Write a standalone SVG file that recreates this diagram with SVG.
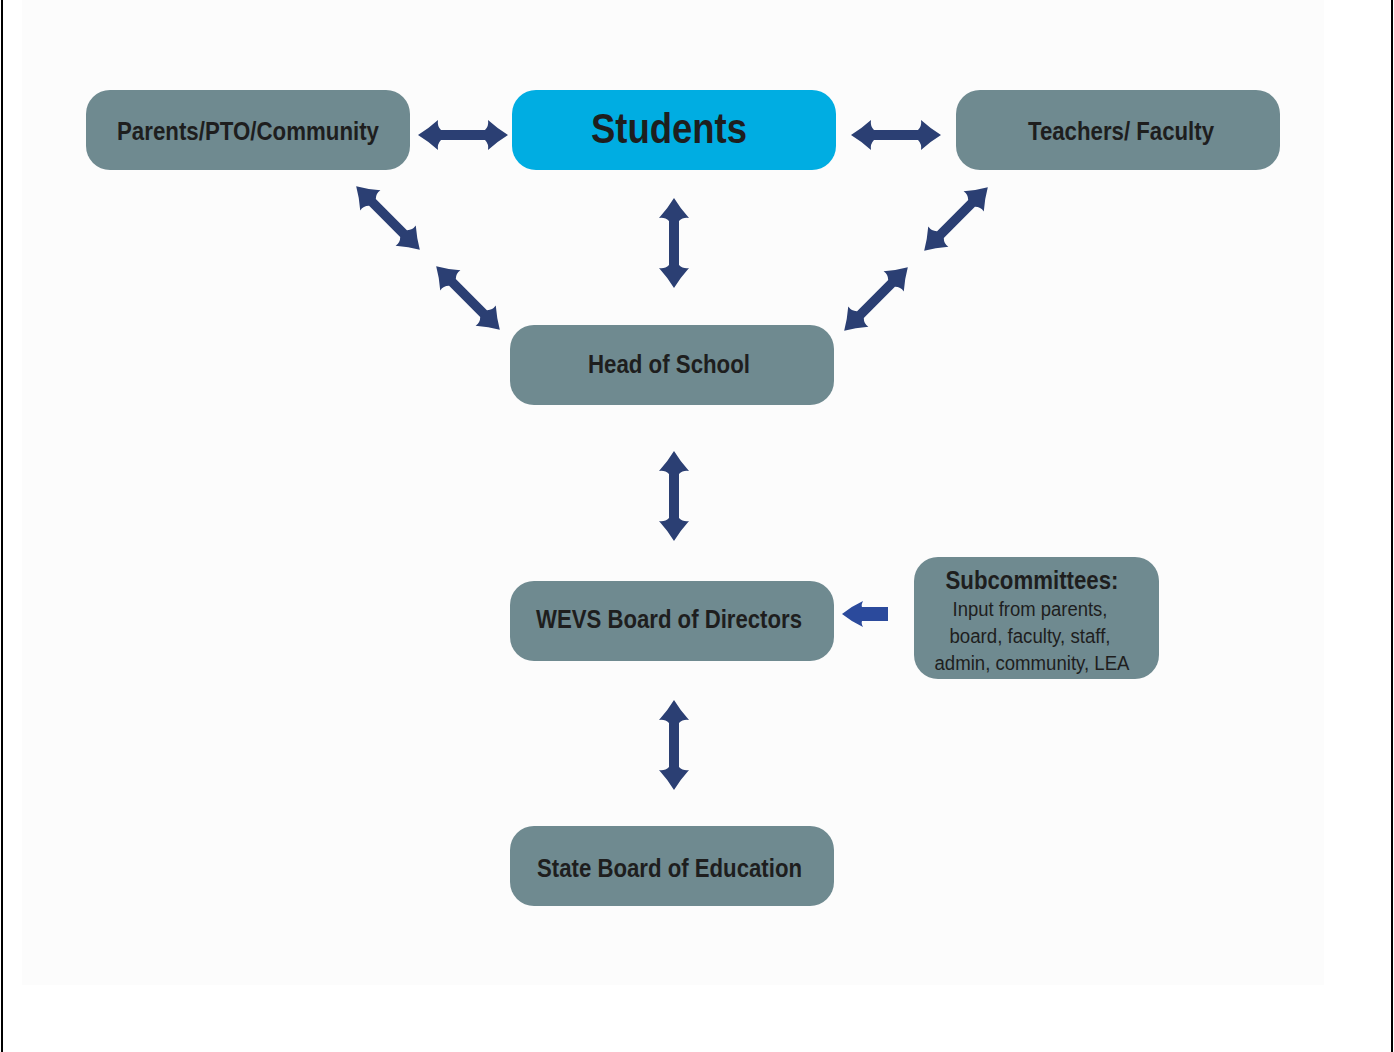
<svg xmlns="http://www.w3.org/2000/svg" width="1394" height="1052" viewBox="0 0 1394 1052">
<style>
.box{fill:#6f8a90;}
.stu{fill:#00ade2;}
.lbl{font-family:"Liberation Sans",Arial,sans-serif;font-weight:bold;fill:#1e1e1e;text-anchor:middle;}
.sub{font-family:"Liberation Sans",Arial,sans-serif;fill:#1e1e1e;text-anchor:middle;}
.arr{fill:#2b3f73;}
</style>
<defs>
<path id="dbl" d="M -45 0 Q -35 -6 -25 -15 Q -26 -9 -22 -5 L 22 -5 Q 26 -9 25 -15 Q 35 -6 45 0 Q 35 6 25 15 Q 26 9 22 5 L -22 5 Q -26 9 -25 15 Q -35 6 -45 0 Z"/>
</defs>
<rect x="0" y="0" width="1394" height="1052" fill="#ffffff"/>
<rect x="22" y="0" width="1302" height="985" fill="#fcfcfc"/>
<rect x="1" y="0" width="2" height="1052" fill="#000"/>
<rect x="1391" y="0" width="2" height="1052" fill="#000"/>

<g id="connectors">
<use href="#dbl" class="arr" transform="translate(463,135)"/>
<use href="#dbl" class="arr" transform="translate(896,135)"/>
<use href="#dbl" class="arr" transform="translate(674,243) rotate(90)"/>
<use href="#dbl" class="arr" transform="translate(674,496) rotate(90)"/>
<use href="#dbl" class="arr" transform="translate(674,745) rotate(90)"/>
<use href="#dbl" class="arr" transform="translate(388,218) rotate(45) scale(1,0.95)"/>
<use href="#dbl" class="arr" transform="translate(468,298) rotate(45) scale(1,0.95)"/>
<use href="#dbl" class="arr" transform="translate(956,219) rotate(-45) scale(1,0.95)"/>
<use href="#dbl" class="arr" transform="translate(876,299) rotate(-45) scale(1,0.95)"/>
<path d="M 842 614 Q 852 606 863 601 Q 861 605 862 607 L 888 607 L 888 621 L 862 621 Q 861 623 863 627 Q 852 622 842 614 Z" fill="#2b4a9c"/>
</g>

<g id="parents">
<rect class="box" x="86" y="90" width="324" height="80" rx="24"/>
<text class="lbl" x="248" y="140" font-size="26" textLength="262" lengthAdjust="spacingAndGlyphs">Parents/PTO/Community</text>
</g>
<g id="students">
<rect class="stu" x="512" y="90" width="324" height="80" rx="24"/>
<text class="lbl" x="669" y="143" font-size="42" textLength="156" lengthAdjust="spacingAndGlyphs">Students</text>
</g>
<g id="teachers">
<rect class="box" x="956" y="90" width="324" height="80" rx="24"/>
<text class="lbl" x="1121" y="140" font-size="26" textLength="186" lengthAdjust="spacingAndGlyphs">Teachers/ Faculty</text>
</g>
<g id="head">
<rect class="box" x="510" y="325" width="324" height="80" rx="24"/>
<text class="lbl" x="669" y="373" font-size="26" textLength="162" lengthAdjust="spacingAndGlyphs">Head of School</text>
</g>
<g id="wevs">
<rect class="box" x="510" y="581" width="324" height="80" rx="24"/>
<text class="lbl" x="669" y="628" font-size="26" textLength="266" lengthAdjust="spacingAndGlyphs">WEVS Board of Directors</text>
</g>
<g id="state">
<rect class="box" x="510" y="826" width="324" height="80" rx="24"/>
<text class="lbl" x="669.5" y="877" font-size="26" textLength="265" lengthAdjust="spacingAndGlyphs">State Board of Education</text>
</g>
<g id="subcommittees">
<rect class="box" x="914" y="557" width="245" height="122" rx="24"/>
<text class="lbl" x="1032" y="589" font-size="25" textLength="173" lengthAdjust="spacingAndGlyphs">Subcommittees:</text>
<text class="sub" x="1030" y="616" font-size="20" textLength="155" lengthAdjust="spacingAndGlyphs">Input from parents,</text>
<text class="sub" x="1030" y="643" font-size="20" textLength="161" lengthAdjust="spacingAndGlyphs">board, faculty, staff,</text>
<text class="sub" x="1032" y="670" font-size="20" textLength="195" lengthAdjust="spacingAndGlyphs">admin, community, LEA</text>
</g>
</svg>
